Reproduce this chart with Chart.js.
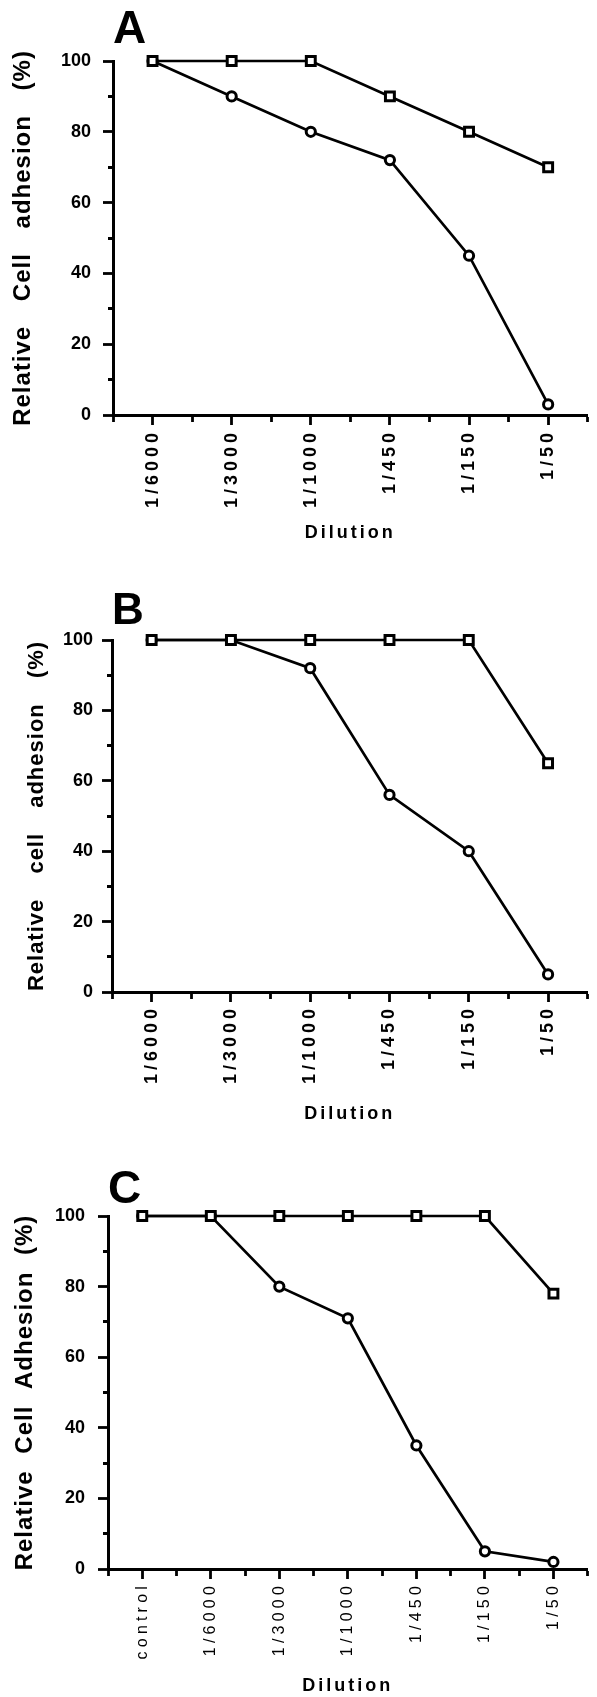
<!DOCTYPE html>
<html>
<head>
<meta charset="utf-8">
<script src="https://cdn.jsdelivr.net/npm/chart.js@4/dist/chart.umd.min.js"></script>
<style>
  html, body { margin: 0; padding: 0; background: #fff; overflow: hidden; }
  body { width: 597px; height: 1697px; position: relative; }
  canvas { position: absolute; left: 0; }
</style>
</head>
<body>
<canvas id="cA" width="597" height="565" style="top:0px"></canvas>
<canvas id="cB" width="597" height="570" style="top:565px"></canvas>
<canvas id="cC" width="597" height="570" style="top:1135px"></canvas>
<script>
// ---- data ----
const categoriesAB = ['1/6000', '1/3000', '1/1000', '1/450', '1/150', '1/50'];
const categoriesC  = ['control', '1/6000', '1/3000', '1/1000', '1/450', '1/150', '1/50'];

const squaresA = [100, 100, 100, 90, 80, 70];
const circlesA = [100, 90, 80, 72, 45, 3];

const squaresB = [100, 100, 100, 100, 100, 65];
const circlesB = [100, 100, 92, 56, 40, 5];

const squaresC = [100, 100, 100, 100, 100, 100, 78];
const circlesC = [100, 100, 80, 71, 35, 5, 2];

const yTickLabels = [0, 20, 40, 60, 80, 100];

// ---- helpers ----
const FAMILY = "'Liberation Sans', Arial, Helvetica, sans-serif";

function spacingPlugin(spec) {
  return {
    id: 'textSpacing',
    beforeDraw(chart) {
      for (const id in spec) {
        const s = chart.scales[id];
        if (!s || s._spacingWrapped) continue;
        s._spacingWrapped = true;
        const sp = spec[id];
        [['drawLabels', 'labels'], ['drawTitle', 'title']].forEach(([fn, key]) => {
          const orig = s[fn];
          s[fn] = function (...args) {
            const c = this.ctx;
            c.save();
            c.letterSpacing = sp[key] || '0px';
            c.wordSpacing = (key === 'title' && sp.word) ? sp.word : '0px';
            const r = orig.apply(this, args);
            c.restore();
            return r;
          };
        });
      }
    }
  };
}

function toPoints(values) {
  return values.map((v, i) => ({ x: i, y: v }));
}

function makePanel(p) {
  const n = p.categories.length;
  new Chart(document.getElementById(p.canvas), {
    type: 'line',
    data: {
      datasets: [
        {
          data: toPoints(p.squares),
          borderColor: '#000', borderWidth: 2.7,
          pointStyle: 'rect', pointRadius: 6.3, pointBorderWidth: 3,
          pointBackgroundColor: '#fff', pointBorderColor: '#000',
          tension: 0, fill: false, clip: false
        },
        {
          data: toPoints(p.circles),
          borderColor: '#000', borderWidth: 2.7,
          pointStyle: 'circle', pointRadius: 4.6, pointBorderWidth: 3,
          pointBackgroundColor: '#fff', pointBorderColor: '#000',
          tension: 0, fill: false, clip: false
        }
      ]
    },
    options: {
      responsive: false,
      animation: false,
      events: [],
      layout: { padding: { top: 0, left: 0, right: p.padRight, bottom: 0 } },
      plugins: {
        legend: { display: false },
        tooltip: { enabled: false },
        title: {
          display: true, text: p.letter, align: 'start', fullSize: false,
          color: '#000',
          font: { family: FAMILY, size: p.letterSize, weight: 'bold', lineHeight: 1 },
          padding: { top: p.letterPadTop, bottom: p.letterPadBottom }
        }
      },
      scales: {
        x: {
          type: 'linear',
          min: -0.5, max: n - 0.5,
          border: { display: true, color: '#000', width: 3 },
          grid: {
            drawOnChartArea: false, drawTicks: true, tickLength: 10,
            tickWidth: 2.8, tickColor: '#000',
            tickBorderDash: (ctx) => (Number.isInteger(ctx.tick && ctx.tick.value) ? [] : [5, 40])
          },
          ticks: {
            stepSize: 0.5, autoSkip: false, maxRotation: 90, minRotation: 90,
            color: '#000', padding: p.xLabelPad,
            font: { family: FAMILY, size: p.xFontSize, weight: p.xFontWeight },
            callback: (v) => (Number.isInteger(v) ? p.categories[v] : '')
          },
          title: {
            display: true, text: 'Dilution', color: '#000',
            font: { family: FAMILY, size: 18, weight: 'bold' },
            padding: { top: 0, bottom: p.xTitlePadBottom }
          },
          afterFit: (s) => { s.height = p.xHeight; s.paddingLeft = 0; s.paddingRight = 0; }
        },
        y: {
          type: 'linear',
          min: 0, max: 100,
          border: { display: true, color: '#000', width: 3 },
          grid: {
            drawOnChartArea: false, drawTicks: true, tickLength: 10,
            tickWidth: 2.8, tickColor: '#000',
            tickBorderDash: (ctx) => (ctx.tick && yTickLabels.includes(ctx.tick.value) ? [] : [0, 5, 40, 0])
          },
          ticks: {
            stepSize: 10, autoSkip: false, color: '#000', padding: p.yLabelPad,
            font: { family: FAMILY, size: 18, weight: 'bold' },
            callback: (v) => (yTickLabels.includes(v) ? String(v) : '')
          },
          title: {
            display: true, text: p.yTitle, color: '#000',
            font: { family: FAMILY, size: p.yTitleSize, weight: 'bold' },
            padding: { top: p.yTitlePadTop, bottom: 0 }
          },
          afterFit: (s) => { s.width = p.yWidth; s.paddingTop = 0; s.paddingBottom = 0; }
        }
      }
    },
    plugins: [spacingPlugin({
      x: { labels: p.xLetterSpacing, title: '3px' },
      y: { labels: '0px', title: '1px', word: p.yWordSpacing }
    })]
  });
}

makePanel({
  canvas: 'cA', letter: 'A', letterSize: 46, letterPadTop: 7.5, letterPadBottom: 7.5,
  categories: categoriesAB, squares: squaresA, circles: circlesA,
  yTitle: 'Relative Cell adhesion (%)', yTitleSize: 24, yTitlePadTop: 9, yWordSpacing: '17px',
  yWidth: 113, padRight: 0, xHeight: 150, xTitlePadBottom: 21,
  xLabelPad: 4, xFontSize: 18, xFontWeight: 'bold', xLetterSpacing: '4px', yLabelPad: 12
});

makePanel({
  canvas: 'cB', letter: 'B', letterSize: 44, letterPadTop: 24.5, letterPadBottom: 6.5,
  categories: categoriesAB, squares: squaresB, circles: circlesB,
  yTitle: 'Relative cell adhesion (%)', yTitleSize: 22, yTitlePadTop: 24, yWordSpacing: '18px',
  yWidth: 112, padRight: 0, xHeight: 143, xTitlePadBottom: 10,
  xLabelPad: 3, xFontSize: 18, xFontWeight: 'bold', xLetterSpacing: '4px', yLabelPad: 9
});

makePanel({
  canvas: 'cC', letter: 'C', letterSize: 46, letterPadTop: 32.5, letterPadBottom: 2.5,
  categories: categoriesC, squares: squaresC, circles: circlesC,
  yTitle: 'Relative Cell Adhesion (%)', yTitleSize: 24, yTitlePadTop: 11, yWordSpacing: '9px',
  yWidth: 108, padRight: 7.5, xHeight: 136, xTitlePadBottom: 8,
  xLabelPad: 3, xFontSize: 16, xFontWeight: 'normal', xLetterSpacing: '4.2px', yLabelPad: 13
});
</script>
</body>
</html>
